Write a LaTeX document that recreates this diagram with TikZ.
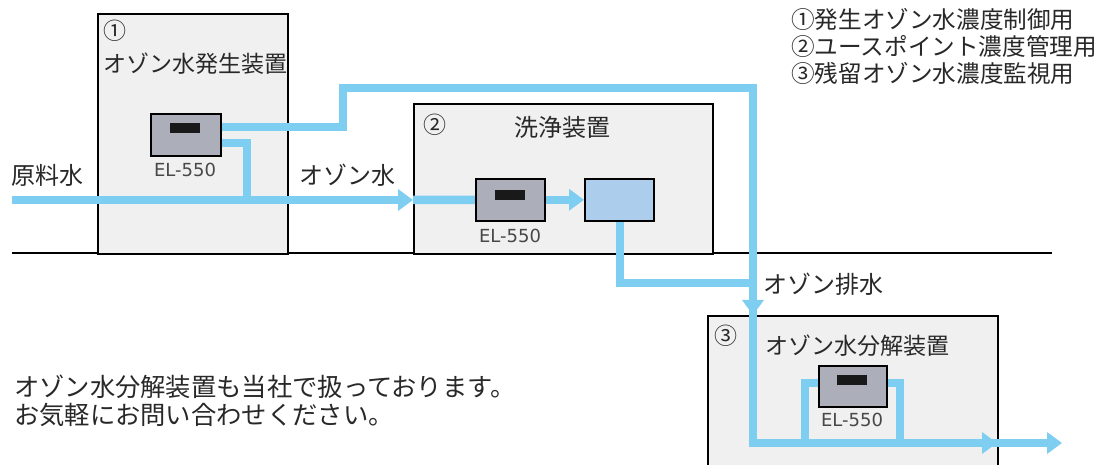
\documentclass[tikz,border=0pt]{standalone}
\usepackage{fontspec}
\setmainfont{Noto Sans CJK JP}
\newfontfamily\modelfont{DejaVu Sans}
\usetikzlibrary{arrows.meta}
\definecolor{pipe}{RGB}{125,206,240}
\definecolor{unitfill}{RGB}{240,240,240}
\definecolor{sensfill}{RGB}{172,174,186}
\definecolor{tankfill}{RGB}{172,206,236}
\definecolor{txt}{RGB}{40,40,40}
\begin{document}
\begin{tikzpicture}[x=1pt,y=-1pt,
  unit/.style={draw=black,line width=1.6pt,fill=unitfill,anchor=north west,inner sep=0pt},
  sensor/.style={draw=black,line width=1.6pt,fill=sensfill,minimum width=68pt,minimum height=41pt,inner sep=0pt,anchor=north west},
  window/.style={fill=black!90,minimum width=30pt,minimum height=10pt,inner sep=0pt},
  tank/.style={draw=black,line width=1.6pt,fill=tankfill,minimum width=68pt,minimum height=41pt,inner sep=0pt,anchor=north west},
  pipeline/.style={draw=pipe,line width=8.5pt},
  tip/.style={-{Triangle[length=15pt,width=21pt]}},
  lbl/.style={font=\fontsize{23}{27}\selectfont,text=txt,inner sep=0pt},
  big/.style={font=\fontsize{24}{28}\selectfont,text=txt,inner sep=0pt},
  note/.style={font=\fontsize{25.3}{29}\selectfont,text=txt,inner sep=0pt},
  key/.style={font=\fontsize{23.6}{27}\selectfont,text=txt,inner sep=0pt},
  model/.style={font=\modelfont\fontsize{18}{21}\selectfont,text=txt!85,inner sep=0pt},
  ground/.style={draw=black,line width=1.6pt}]
\useasboundingbox (0,0) rectangle (1109,465);
\clip (0,0) rectangle (1109,465);
\fill[white] (0,0) rectangle (1109,465);

% ground line
\coordinate (g1) at (12,253);
\coordinate (g2) at (1052,253);
\draw[ground] (g1) -- (g2);

% units
\node[unit,minimum width=190pt,minimum height=240pt] (u1) at (97,13) {};
\node[unit,minimum width=299pt,minimum height=150pt] (u2) at (413,103) {};
\node[unit,minimum width=290pt,minimum height=170pt] (u3) at (707,315) {};

% sensors and tank
\node[sensor,minimum width=70pt,minimum height=42pt] (s1) at (150,113) {};
\node[sensor,minimum width=69pt,minimum height=42pt] (s2) at (475,178) {};
\node[tank,minimum width=69pt,minimum height=42pt] (tk) at (584,178) {};
\node[sensor,minimum width=68pt,minimum height=41pt] (s3) at (818,365) {};

% pipe coordinates
\coordinate (in) at (12,200);
\coordinate (e2) at (413,200);
\coordinate (s1lo) at (219,143);
\coordinate (j1a) at (247,143);
\coordinate (j1b) at (247,200);
\coordinate (s1hi) at (219,127);
\coordinate (p1) at (343,127);
\coordinate (p2) at (343,88);
\coordinate (p3) at (753,88);
\coordinate (e3) at (753,315);
\coordinate (p4) at (753,443);
\coordinate (tkb) at (620,219);
\coordinate (d1) at (620,283);
\coordinate (d2) at (753,283);
\coordinate (s3l) at (818,383);
\coordinate (q1) at (805,383);
\coordinate (q2) at (805,443);
\coordinate (s3r) at (886,383);
\coordinate (q3) at (900,383);
\coordinate (q4) at (900,443);
\coordinate (x3) at (997,443);
\coordinate (out) at (1062,443);

% pipes
\draw[pipeline] (s1lo) -- (j1a) -- (j1b);
\draw[pipeline] (s1hi) -- (p1) -- (p2) -- (p3) -- (p4) -- (x3);
\draw[pipeline] (tkb) -- (d1) -- (d2);
\draw[pipeline] (s3l) -- (q1) -- (q2);
\draw[pipeline] (s3r) -- (q3) -- (q4);
\draw[pipeline,tip] (in) -- (e2);
\draw[pipeline] (e2) -- (s2.west);
\draw[pipeline,tip] (s2.east) -- (tk.west);
\draw[pipeline,tip] (p3) -- (e3);
\draw[pipeline,tip] (p4) -- (x3);
\draw[pipeline,tip] (x3) -- (out);

% redraw sensors on top
\node[sensor,minimum width=70pt,minimum height=42pt] at (150,113) {};
\node[sensor,minimum width=69pt,minimum height=42pt] at (475,178) {};
\node[tank,minimum width=69pt,minimum height=42pt] at (584,178) {};
\node[sensor,minimum width=68pt,minimum height=41pt] at (818,365) {};
\node[window] (w1) at (185,128) {};
\node[window] (w2) at (510,195) {};
\node[window] (w3) at (852,380) {};

% labels
\node[model] (m1) at (185,170) {EL-550};
\node[model] (m2) at (510,236) {EL-550};
\node[model] (m3) at (852,420) {EL-550};

\node[lbl,anchor=west] (n1) at (103,31) {①};
\node[lbl,anchor=west] (t1) at (103,64) {オゾン水発生装置};
\node[lbl,anchor=west] (n2) at (423,125) {②};
\node[big] (t2) at (562,127) {洗浄装置};
\node[lbl,anchor=west] (n3) at (714,336) {③};
\node[lbl,anchor=west] (t3) at (765,346) {オゾン水分解装置};

\node[big,anchor=west] (raw) at (11,175) {原料水};
\node[big,anchor=west] (oz) at (299,175) {オゾン水};
\node[big,anchor=west] (dr) at (763,284) {オゾン排水};

\node[key,anchor=west] (k1) at (791,19) {①発生オゾン水濃度制御用};
\node[key,anchor=west] (k2) at (791,46) {②ユースポイント濃度管理用};
\node[key,anchor=west] (k3) at (791,73) {③残留オゾン水濃度監視用};

\node[note,anchor=west] (b1) at (14,387) {オゾン水分解装置も当社で扱っております。};
\node[note,anchor=west] (b2) at (14,415) {お気軽にお問い合わせください。};
\end{tikzpicture}
\end{document}
